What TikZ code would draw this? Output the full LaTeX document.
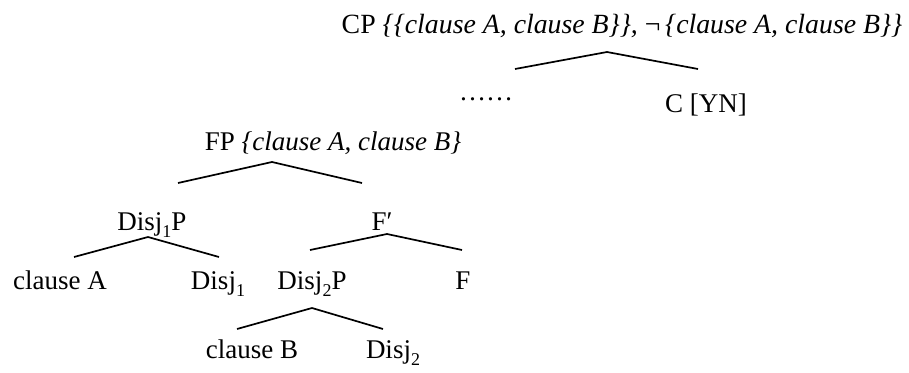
\documentclass[tikz,border=0pt]{standalone}
\usepackage{fontspec}
\setmainfont{Liberation Serif}
\newcommand{\lowsub}[1]{\raisebox{-0.28em}{\fontsize{18}{20}\selectfont #1}}
\begin{document}
\begin{tikzpicture}[x=1pt,y=-1pt,
  lbl/.style={anchor=base,inner sep=0pt,font=\fontsize{27}{32}\selectfont},
  branch/.style={line width=1.7pt}]
\useasboundingbox (0,0) rectangle (909,372);
% labels
\node[lbl,font=\fontsize{27.8}{32}\selectfont] (cp) at (622,33) {CP \textit{\{\{clause A, clause B\}\},} ¬\,\textit{\{clause A, clause B\}\}}};
\node[lbl] (dots) at (486,100) {……};
\node[lbl] (c) at (706,112) {C [YN]};
\node[lbl] (fp) at (333,150) {FP \textit{\{clause A, clause B\}}};
\node[lbl] (d1p) at (152,230) {Disj\lowsub{1}P};
\node[lbl] (fbar) at (382,230) {F′};
\node[lbl] (ca) at (60,289) {clause A};
\node[lbl] (d1) at (218,289) {Disj\lowsub{1}};
\node[lbl] (d2p) at (312,289) {Disj\lowsub{2}P};
\node[lbl] (f) at (463,289) {F};
\node[lbl] (cb) at (252,358) {clause B};
\node[lbl] (d2) at (393,358) {Disj\lowsub{2}};
% branch points
\coordinate (cpA) at (607,52); \coordinate (cpL) at (515,69); \coordinate (cpR) at (698,69);
\coordinate (fpA) at (272,162); \coordinate (fpL) at (178,183); \coordinate (fpR) at (362,183);
\coordinate (d1pA) at (148,237); \coordinate (d1pL) at (74,257); \coordinate (d1pR) at (219,257);
\coordinate (fbA) at (387,234); \coordinate (fbL) at (310,250); \coordinate (fbR) at (462,250);
\coordinate (d2pA) at (312,308); \coordinate (d2pL) at (237,329); \coordinate (d2pR) at (383,329);
\draw[branch] (cpL) -- (cpA) -- (cpR);
\draw[branch] (fpL) -- (fpA) -- (fpR);
\draw[branch] (d1pL) -- (d1pA) -- (d1pR);
\draw[branch] (fbL) -- (fbA) -- (fbR);
\draw[branch] (d2pL) -- (d2pA) -- (d2pR);
\end{tikzpicture}
\end{document}
